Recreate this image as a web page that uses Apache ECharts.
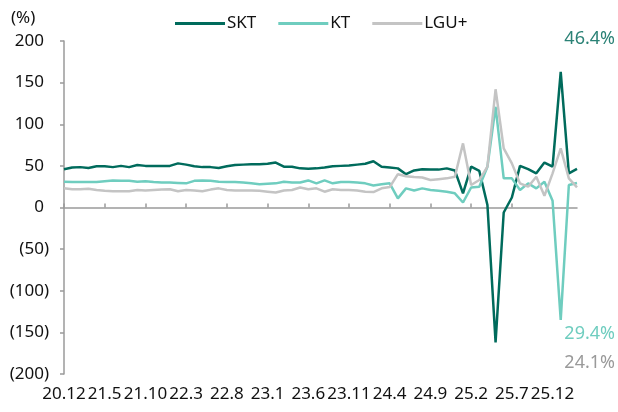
<!DOCTYPE html>
<html>
<head>
<meta charset="utf-8">
<script src="https://cdn.jsdelivr.net/npm/echarts@6/dist/echarts.min.js"></script>
<style>
  html, body { margin: 0; padding: 0; background: #fff; }
  #chart { width: 618px; height: 412px; }
</style>
</head>
<body>
<div id="chart"></div>
<script>
// monthly, 20.12 ~ 26.3
const months = [
  '20.12', '21.1', '21.2', '21.3', '21.4', '21.5', '21.6', '21.7', '21.8', '21.9', '21.10', '21.11', '21.12',
  '22.1', '22.2', '22.3', '22.4', '22.5', '22.6', '22.7', '22.8', '22.9', '22.10', '22.11', '22.12',
  '23.1', '23.2', '23.3', '23.4', '23.5', '23.6', '23.7', '23.8', '23.9', '23.10', '23.11', '23.12',
  '24.1', '24.2', '24.3', '24.4', '24.5', '24.6', '24.7', '24.8', '24.9', '24.10', '24.11', '24.12',
  '25.1', '25.2', '25.3', '25.4', '25.5', '25.6', '25.7', '25.8', '25.9', '25.10', '25.11', '25.12',
  '26.1', '26.2', '26.3'
]

const skt = [
  46, 48, 48.5, 47.5, 49.5, 49.5, 48.5, 50, 48.5, 51, 50, 50, 50,
  50, 53, 51.5, 49.5, 48.5, 48.5, 47.5, 49.5, 51, 51.5, 52, 52,
  52.5, 54, 49, 49, 47, 46.5, 47, 48, 49.5, 50, 50.5, 51.5,
  52.5, 55.5, 49, 48, 47, 40, 44.5, 46, 45.5, 45.5, 47, 44.5,
  17, 49, 44, 3, -162, -6, 12, 50, 46, 41, 54, 49,
  163, 41, 46.4
]

const kt = [
  31, 30.5, 30.5, 30.5, 30.5, 31.5, 32.5, 32, 32, 31, 31.5, 30.5, 30,
  30, 29.5, 29, 32, 32.5, 32, 31, 30.5, 30.5, 30, 29, 28,
  28.5, 29, 31, 30, 30, 32.5, 29, 32.5, 29, 30.5, 30.5, 30,
  29, 26.5, 28, 29, 11, 23, 20.5, 23, 21, 20, 19, 17,
  6, 24, 25, 49, 121, 35, 35, 21, 29, 23, 31, 8,
  -135, 27, 29.4
]

const lgu = [
  23, 22, 22, 22.5, 21, 20, 19.5, 19.5, 19.5, 21, 20.5, 21, 21.5,
  22, 19.5, 21, 20.5, 19.5, 21.5, 23, 21, 20.5, 20.5, 20.5, 20,
  19, 18, 20.5, 21, 24, 22, 23, 19, 22, 21, 21, 20.5,
  19, 18.5, 23, 24.5, 40, 37.5, 36.5, 36, 33, 34, 35, 37,
  77, 27, 33, 49, 142, 71, 53, 29, 25, 37, 14, 41,
  71, 35, 24.1
]

const names = ['SKT', 'KT', 'LGU+']
const colors = ['#006b5c', '#6fcdbf', '#c4c4c4']
const labelColors = ['#2b8276', '#6fcdbf', '#9a9a9a']

const font = '"Noto Sans", sans-serif'
const axisColor = '#9a9a9a'

const last = (arr) => arr[arr.length - 1].toFixed(1) + '%'

let chart = echarts.init(document.getElementById('chart'))

let option = {
  animation: false,
  textStyle: { fontFamily: font },
  grid: { left: 64, right: 41, top: 41, bottom: 38 },
  legend: {
    data: names,
    left: 170,
    top: 10,
    icon: 'rect',
    itemWidth: 50,
    itemHeight: 3,
    itemGap: 22,
    textStyle: { fontSize: 17, color: '#111', fontFamily: font, padding: [0, 0, 0, -3] }
  },
  xAxis: [
    {
      type: 'category',
      data: months,
      boundaryGap: false,
      axisLine: { show: false, onZero: false },
      axisTick: { show: false },
      axisLabel: { interval: 4, margin: 12, fontSize: 17, color: '#111', fontFamily: font }
    },
    {
      // zero line with ticks
      type: 'category',
      data: months,
      boundaryGap: false,
      axisLine: { show: true, onZero: true, lineStyle: { color: axisColor, width: 1.5 } },
      axisTick: { show: true, interval: 4, length: 4, lineStyle: { color: axisColor, width: 1.5 } },
      axisLabel: { show: false }
    }
  ],
  yAxis: {
    type: 'value',
    min: -200,
    max: 200,
    interval: 50,
    splitLine: { show: false },
    axisLine: { show: true, lineStyle: { color: axisColor, width: 1.5 } },
    axisTick: { show: true, length: 4, lineStyle: { color: axisColor, width: 1.5 } },
    axisLabel: {
      margin: 15,
      fontSize: 17,
      color: '#111',
      fontFamily: font,
      formatter: function (v) {
        return v < 0 ? '{n|(' + (-v) + ')}' : '{p|' + v + '}'
      },
      rich: {
        n: { fontSize: 17, color: '#111', fontFamily: font },
        p: { fontSize: 17, color: '#111', fontFamily: font, padding: [0, 5, 0, 0] }
      }
    }
  },
  graphic: [
    { type: 'text', left: 11, top: 10, style: { text: '(%)', font: '17px ' + font, fill: '#111' } },
    { type: 'text', right: 3, top: 30, style: { text: last(skt), font: '18px ' + font, fill: labelColors[0] } },
    { type: 'text', right: 3, top: 325, style: { text: last(kt), font: '18px ' + font, fill: labelColors[1] } },
    { type: 'text', right: 3, top: 354, style: { text: last(lgu), font: '18px ' + font, fill: labelColors[2] } }
  ],
  series: [
    { name: names[0], type: 'line', data: skt, showSymbol: false, lineStyle: { width: 2.5, color: colors[0] }, itemStyle: { color: colors[0] } },
    { name: names[1], type: 'line', data: kt, showSymbol: false, lineStyle: { width: 2.5, color: colors[1] }, itemStyle: { color: colors[1] } },
    { name: names[2], type: 'line', data: lgu, showSymbol: false, lineStyle: { width: 2.5, color: colors[2] }, itemStyle: { color: colors[2] } }
  ]
}

chart.setOption(option)
</script>
</body>
</html>
